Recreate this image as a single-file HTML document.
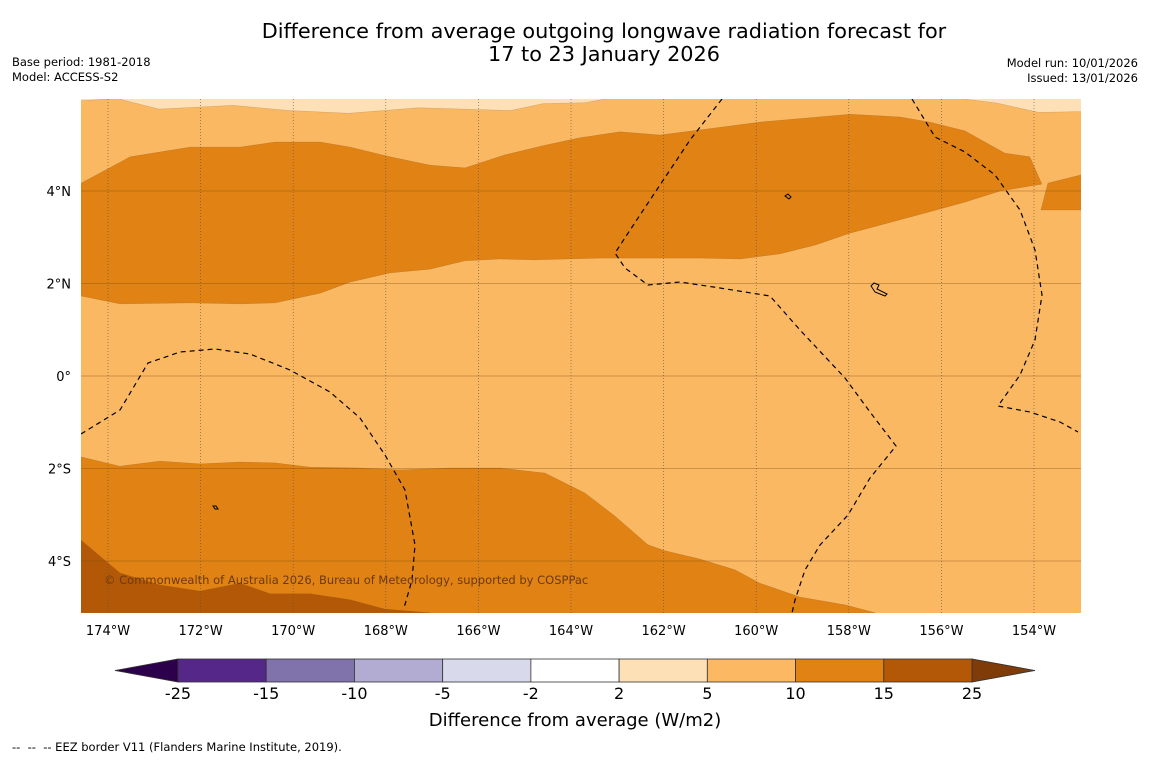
<!DOCTYPE html>
<html><head><meta charset="utf-8"><style>
body{margin:0;background:#fff;width:1150px;height:758px;overflow:hidden;font-family:"DejaVu Sans","Liberation Sans",sans-serif;}
svg text{font-family:"DejaVu Sans","Liberation Sans",sans-serif;}
</style></head><body>
<svg id="chart" width="1150" height="758" viewBox="0 0 1150 758">
<rect width="1150" height="758" fill="#fff"/>
<text x="604" y="38" font-size="20.8" text-anchor="middle">Difference from average outgoing longwave radiation forecast for</text>
<text x="604" y="61" font-size="20.8" text-anchor="middle">17 to 23 January 2026</text>
<text x="12" y="66" font-size="11.5">Base period: 1981-2018</text>
<text x="12" y="81" font-size="11.5">Model: ACCESS-S2</text>
<text x="1138" y="67" font-size="11.5" text-anchor="end">Model run: 10/01/2026</text>
<text x="1138" y="82" font-size="11.5" text-anchor="end">Issued: 13/01/2026</text>
<g id="map"></g>
<g id="cbar"></g>
<text x="575" y="726" font-size="18" text-anchor="middle">Difference from average (W/m2)</text>
<text x="12" y="751" font-size="11.5" xml:space="preserve">--  --  -- EEZ border V11 (Flanders Marine Institute, 2019).</text>
</svg>
<script>
const lonTicks=[-174,-172,-170,-168,-166,-164,-162,-160,-158,-156,-154];
const latTicks=[4,2,0,-2,-4];
const levels=[-25,-15,-10,-5,-2,2,5,10,15,25];
const levelColors=['#542788','#8073ac','#b2abd2','#d8daeb','#ffffff','#fee0b6','#fdb863','#e08214','#b35806'];
const lightBandTop=[[-174.6,6.2],[-174.6,5.95],[-173.8,6.0],[-172.9,5.77],[-171.3,5.85],[-170.1,5.74],[-168.8,5.68],[-167.3,5.8],[-165.3,5.74],[-164.6,5.89],[-163.7,5.91],[-163.2,6.0],[-163.2,6.2]];
const lightBandRight=[[-155.6,6.2],[-155.6,6.0],[-154.8,5.9],[-153.9,5.7],[-152.9,5.72],[-152.9,6.2]];
const darkNorth=[[-174.58,4.17],[-173.52,4.74],[-172.23,4.95],[-171.15,4.95],[-170.39,5.06],[-169.42,5.06],[-168.77,4.95],[-167.91,4.74],[-167.05,4.56],[-166.29,4.5],[-165.43,4.78],[-164.56,4.99],[-163.81,5.15],[-162.94,5.28],[-162.08,5.21],[-161.21,5.32],[-159.92,5.49],[-157.97,5.66],[-156.89,5.6],[-156.25,5.49],[-155.49,5.3],[-154.63,4.82],[-154.09,4.74],[-153.83,4.15],[-154.73,4.0],[-155.49,3.76],[-156.25,3.55],[-157.33,3.26],[-157.97,3.09],[-158.73,2.83],[-159.49,2.64],[-160.35,2.53],[-161.21,2.55],[-163.37,2.55],[-164.78,2.51],[-165.53,2.53],[-166.29,2.49],[-167.05,2.31],[-167.91,2.23],[-168.77,2.03],[-169.42,1.79],[-170.39,1.58],[-171.15,1.56],[-172.23,1.58],[-173.74,1.56],[-174.58,1.73]];
const darkNorthRight=[[-153.7,4.17],[-152.98,4.35],[-152.98,3.59],[-153.85,3.59]];
const darkSouth=[[-174.58,-1.75],[-173.74,-1.95],[-172.88,-1.84],[-172.01,-1.9],[-171.15,-1.86],[-170.39,-1.88],[-169.64,-1.97],[-168.56,-1.99],[-167.69,-2.03],[-166.61,-1.99],[-165.53,-1.99],[-164.56,-2.1],[-163.7,-2.53],[-163.05,-3.03],[-162.34,-3.65],[-161.97,-3.78],[-161.21,-3.96],[-160.46,-4.19],[-159.92,-4.48],[-159.05,-4.78],[-158.08,-4.95],[-157.43,-5.12],[-174.58,-5.12]];
const darkestSouth=[[-174.58,-3.55],[-173.74,-4.26],[-172.88,-4.52],[-172.01,-4.65],[-171.15,-4.48],[-170.5,-4.71],[-169.64,-4.71],[-168.77,-4.84],[-168.02,-5.04],[-167.05,-5.12],[-174.58,-5.12]];

const NS='http://www.w3.org/2000/svg';
const X0=81,X1=1081,Y0=99,Y1=613;
function xs(lon){return 108+(lon+174)*46.3;}
function ys(lat){return 191-(lat-4)*46.25;}
function mk(tag,attrs,parent){const e=document.createElementNS(NS,tag);for(const k in attrs)e.setAttribute(k,attrs[k]);parent.appendChild(e);return e;}
const map=document.getElementById('map');
const defs=mk('defs',{},map);
const cp=mk('clipPath',{id:'clip'},defs);
mk('rect',{x:X0,y:Y0,width:X1-X0,height:Y1-Y0},cp);
const g=mk('g',{'clip-path':'url(#clip)'},map);
const bg=mk('rect',{x:X0,y:Y0,width:X1-X0,height:Y1-Y0,fill:'#fbb862'},g);


function poly(pts,fill,name){
  const p=mk('polygon',{points:pts.map(q=>xs(q[0]).toFixed(1)+','+ys(q[1]).toFixed(1)).join(' '),fill:fill,stroke:'#6b4a20','stroke-width':0.3,'stroke-opacity':0.5},g);
  
  
}
poly(lightBandTop,'#fee0b6','contour-2-5-north-west');
poly(lightBandRight,'#fee0b6','contour-2-5-north-east');
poly(darkNorth,'#e08214','contour-10-15-north');
poly(darkNorthRight,'#e08214','contour-10-15-north-east');
poly(darkSouth,'#e08214','contour-10-15-south');
poly(darkestSouth,'#b35806','contour-15-25-south');
lonTicks.forEach(l=>{
  const ln=mk('line',{x1:xs(l),x2:xs(l),y1:Y0,y2:Y1,stroke:'#555','stroke-width':0.6,'stroke-dasharray':'1,2'},g);
  
  
  const t=mk('text',{x:xs(l),y:635,'font-size':13,'text-anchor':'middle'},map);
  t.textContent=Math.abs(l)+'°W';
  
  
});
latTicks.forEach(l=>{
  const ln=mk('line',{x1:X0,x2:X1,y1:ys(l),y2:ys(l),stroke:'#7a4a10','stroke-width':0.6,'stroke-opacity':0.7},g);
  
  
  const t=mk('text',{x:71,y:ys(l)+5,'font-size':13,'text-anchor':'end'},map);
  t.textContent=l===0?'0°':Math.abs(l)+'°'+(l>0?'N':'S');
  
  
});
const eez=['M81,434 L120,410 L148,363 L180,352 L215,349 L250,354 L290,370 L330,392 L360,418 L385,455 L405,490 L415,545 L412,580 L404,608',
'M722,99 L690,140 L660,185 L640,215 L615,253 L625,268 L648,285 L680,282 L720,288 L770,296 L800,330 L845,378 L870,412 L896,446 L870,478 L848,515 L820,545 L805,570 L795,600 L792,613',
'M912,99 L935,137 L965,152 L995,175 L1020,210 L1035,250 L1042,295 L1035,340 L1020,375 L998,406 L1030,412 L1060,422 L1078,432'];
eez.forEach(d=>{
  const p=mk('path',{d:d,fill:'none',stroke:'#000','stroke-width':1.2,'stroke-dasharray':'5,4'},g);
  
  
});
[['M785,196 l3,-2 l3,3 l-2,2 z','island'],['M871,286 l3,-3 l5,2 l-2,4 l10,5 l-2,2 l-10,-4 z','island'],['M213,506 l3,0 l2,3 l-3,0 z','island']].forEach(a=>{
  const p=mk('path',{d:a[0],fill:'none',stroke:'#000','stroke-width':1},g);
  
  
});
const cr=mk('text',{x:104,y:584,'font-size':11.5,fill:'#6b3a10'},map);
cr.textContent='© Commonwealth of Australia 2026, Bureau of Meteorology, supported by COSPPac';


const cb=document.getElementById('cbar');
const CX0=178,CX1=972,CY=659,CH=23,n=levels.length-1,w=(CX1-CX0)/n;
const lt=mk('polygon',{points:`115,${CY+CH/2} ${CX0},${CY} ${CX0},${CY+CH}`,fill:'#2d004b',stroke:'#333','stroke-width':0.8},cb);


const rt=mk('polygon',{points:`1035,${CY+CH/2} ${CX1},${CY} ${CX1},${CY+CH}`,fill:'#7f3b08',stroke:'#333','stroke-width':0.8},cb);


for(let i=0;i<n;i++){
  const r=mk('rect',{x:CX0+i*w,y:CY,width:w,height:CH,fill:levelColors[i],stroke:'#333','stroke-width':0.8},cb);
  
  
}
levels.forEach((v,i)=>{
  const t=mk('text',{x:CX0+i*w,y:699,'font-size':16,'text-anchor':'middle'},cb);
  t.textContent=String(v);
  
  
});
</script>
</body></html>
